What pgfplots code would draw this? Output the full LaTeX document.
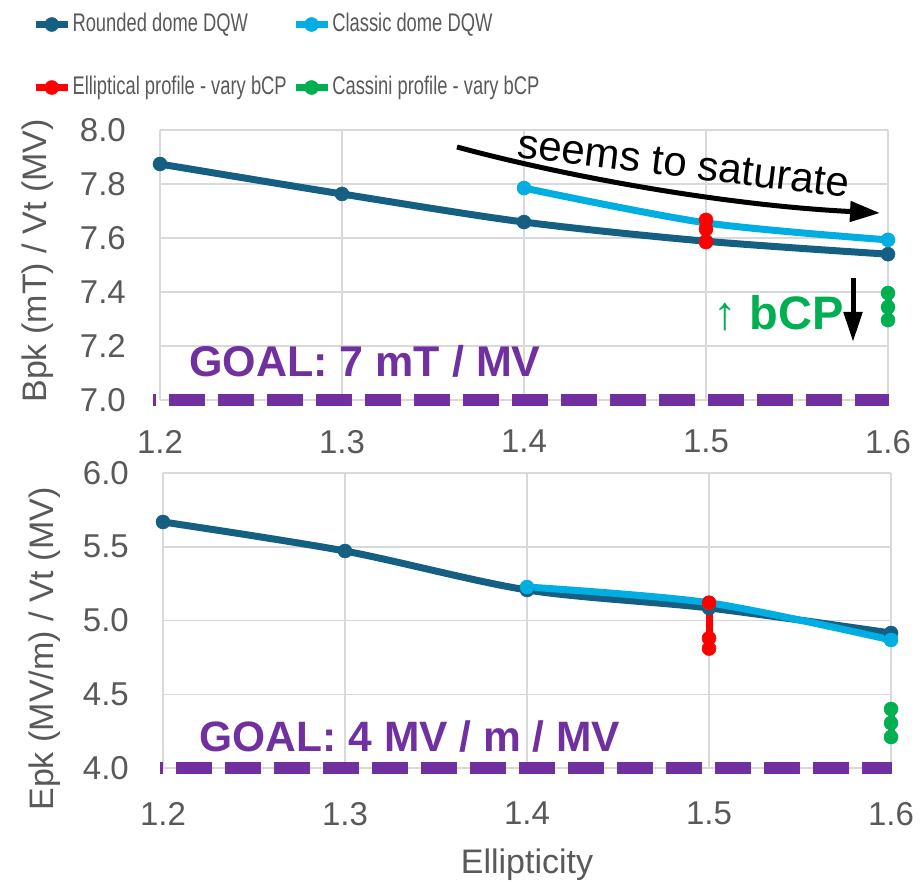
\documentclass[border=0pt]{standalone}
\usepackage{pgfplots}
\pgfplotsset{compat=1.18}
\usepackage{fontspec}
\setmainfont{Liberation Sans}
\newfontfamily\legendfont[FakeStretch=0.72]{Liberation Sans}
\usetikzlibrary{arrows.meta}
\definecolor{rounded}{RGB}{21,96,130}
\definecolor{classic}{RGB}{0,174,226}
\definecolor{ellip}{RGB}{255,0,0}
\definecolor{cass}{RGB}{0,176,80}
\definecolor{goal}{RGB}{112,48,160}
\definecolor{txtgray}{RGB}{89,89,89}
\definecolor{gridgray}{RGB}{217,217,217}
\pgfplotsset{
 myaxis/.style={
  scale only axis, width=728pt, clip=false,
  axis line style={draw=none},
  major tick length=0pt,
  grid=major, major grid style={gridgray, line width=1.5pt},
  xmin=1.2, xmax=1.6, xtick={1.2,1.3,1.4,1.5,1.6},
  tick label style={font=\fontsize{33}{40}\selectfont, text=txtgray, inner sep=0pt},
  /pgf/number format/assume math mode=true,
  xticklabel style={/pgf/number format/fixed, /pgf/number format/fixed zerofill, /pgf/number format/precision=1},
  yticklabel style={/pgf/number format/fixed, /pgf/number format/fixed zerofill, /pgf/number format/precision=1, xshift=-34pt},
  label style={font=\fontsize{34}{40}\selectfont, text=txtgray},
  every axis plot/.append style={line width=7pt, mark=*, mark size=7pt, mark options={line width=0.5pt}},
  legend image code/.code={\draw[mark repeat=2,mark phase=2,##1,line width=7.5pt] plot coordinates {(0pt,0pt)(16pt,0pt)(32pt,0pt)};},
 }
}
\begin{document}
\begin{tikzpicture}[x=1pt,y=1pt]
\begin{axis}[myaxis, at={(160pt,481pt)}, anchor=south west, height=270pt,
  ymin=7, ymax=8, ytick={7,7.2,7.4,7.6,7.8,8},
  xticklabel style={yshift=-30pt},
  ylabel={Bpk (mT) / Vt (MV)},
  ylabel style={at={(axis description cs:-0.1676,0.515)}, anchor=center},
  legend columns=2, legend cell align=left,
  legend style={at={(axis description cs:-0.1758,1.437)}, anchor=north west, draw=none, fill=none,
    inner sep=0pt, outer sep=0pt, font=\legendfont\fontsize{25.5}{30}\selectfont, text=txtgray,
    column sep=0pt, row sep=38pt, nodes={inner sep=1pt, text height=18pt, text depth=5pt},
    /tikz/every even column/.append style={column sep=4pt}},
]
\addplot[rounded, smooth] coordinates {(1.2,7.874)(1.3,7.763)(1.4,7.659)(1.5,7.588)(1.6,7.540)};
\addlegendentry{Rounded dome DQW}
\addplot[classic, smooth] coordinates {(1.4,7.785)(1.5,7.656)(1.6,7.593)};
\addlegendentry{Classic dome DQW}
\addplot[ellip] coordinates {(1.5,7.667)(1.5,7.633)(1.5,7.585)};
\addlegendentry{Elliptical profile - vary bCP}
\addplot[cass] coordinates {(1.6,7.396)(1.6,7.344)(1.6,7.296)};
\addlegendentry{Cassini profile - vary bCP}
\addplot[goal, line width=11.5pt, mark=none, dash pattern=on 36pt off 13pt, dash phase=33pt, forget plot] coordinates {(1.1962,7)(1.6005,7)};
\end{axis}
\begin{axis}[myaxis, at={(163pt,113pt)}, anchor=south west, height=295pt,
  ymin=4, ymax=6, ytick={4,4.5,5,5.5,6},
  xticklabel style={yshift=-34pt},
  ylabel={Epk (MV/m) / Vt (MV)},
  ylabel style={at={(axis description cs:-0.162,0.403)}, anchor=center},
  xlabel={Ellipticity},
  xlabel style={at={(axis description cs:0.5,-0.356)}, anchor=base},
]
\addplot[rounded, smooth] coordinates {(1.2,5.668)(1.3,5.471)(1.4,5.207)(1.5,5.085)(1.6,4.915)};
\addplot[classic, smooth] coordinates {(1.4,5.227)(1.5,5.12)(1.6,4.868)};
\addplot[ellip] coordinates {(1.5,5.12)(1.5,4.88)(1.5,4.81)};
\addplot[cass] coordinates {(1.6,4.40)(1.6,4.305)(1.6,4.21)};
\addplot[goal, line width=11.5pt, mark=none, dash pattern=on 36pt off 13pt, dash phase=33pt] coordinates {(1.1984,4)(1.6005,4)};
\end{axis}
\node[rotate=-7, anchor=base west, inner sep=0pt, font=\fontsize{42}{46}\selectfont] at (516,724) {seems to saturate};
\draw[line width=5pt, -{Triangle[length=30pt,width=20pt]}] (457,734) .. controls (560,706) and (720,676) .. (880,668);
\node[anchor=base, font=\bfseries\fontsize{43}{48}\selectfont, text=goal] at (365,504) {GOAL: 7 mT / MV};
\node[anchor=base, font=\bfseries\fontsize{42.5}{48}\selectfont, text=goal] at (410,130) {GOAL: 4 MV / m / MV};
\node[anchor=base west, inner sep=0pt, text=cass, font=\fontsize{47}{52}\selectfont] at (713,551) {↑ \textbf{bCP}};
\draw[line width=5pt, -{Triangle[length=30pt,width=18pt]}] (853,603) -- (853,539);
\pgfresetboundingbox
\path (0,0) rectangle (923,881);
\end{tikzpicture}
\end{document}
